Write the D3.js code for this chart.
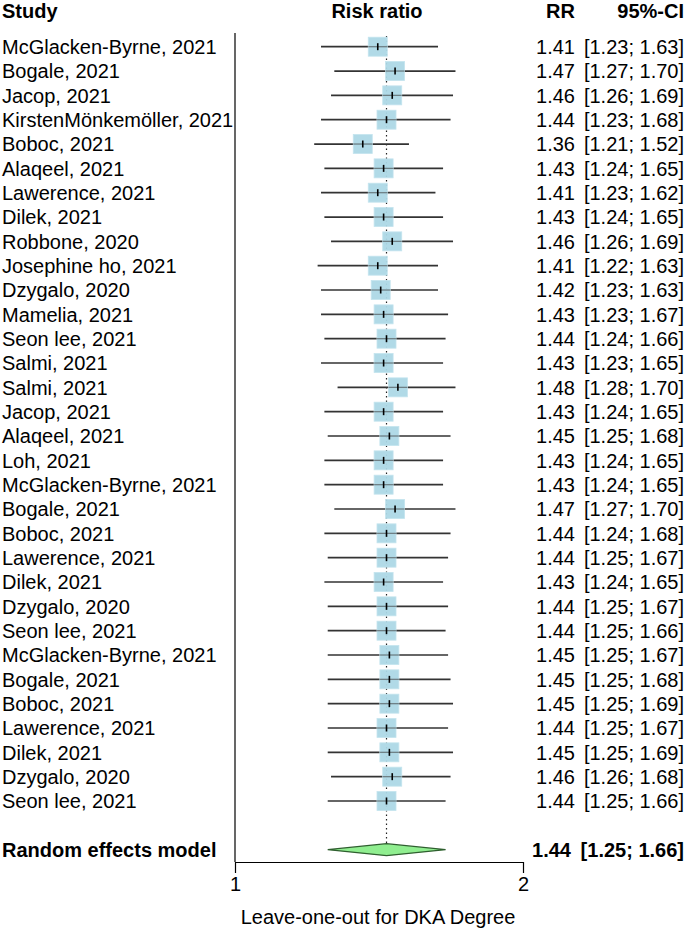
<!DOCTYPE html>
<html>
<head>
<meta charset="utf-8">
<script src="https://cdn.jsdelivr.net/npm/d3@7"></script>
<style>
  html, body { margin: 0; padding: 0; background: #fff; }
  svg text { font-family: "Liberation Sans", Arial, Helvetica, sans-serif; fill: #000; }
</style>
</head>
<body>
<svg id="chart" width="685" height="932"></svg>
<script>
const studies = [
  "McGlacken-Byrne, 2021", "Bogale, 2021", "Jacop, 2021", "KirstenMönkemöller, 2021",
  "Boboc, 2021", "Alaqeel, 2021", "Lawerence, 2021", "Dilek, 2021", "Robbone, 2020",
  "Josephine ho, 2021", "Dzygalo, 2020", "Mamelia, 2021", "Seon lee, 2021", "Salmi, 2021",
  "Salmi, 2021", "Jacop, 2021", "Alaqeel, 2021", "Loh, 2021", "McGlacken-Byrne, 2021",
  "Bogale, 2021", "Boboc, 2021", "Lawerence, 2021", "Dilek, 2021", "Dzygalo, 2020",
  "Seon lee, 2021", "McGlacken-Byrne, 2021", "Bogale, 2021", "Boboc, 2021",
  "Lawerence, 2021", "Dilek, 2021", "Dzygalo, 2020", "Seon lee, 2021"
];
const rr = [1.41,1.47,1.46,1.44,1.36,1.43,1.41,1.43,1.46,1.41,1.42,1.43,1.44,1.43,1.48,1.43,
            1.45,1.43,1.43,1.47,1.44,1.44,1.43,1.44,1.44,1.45,1.45,1.45,1.44,1.45,1.46,1.44];
const lower = [1.23,1.27,1.26,1.23,1.21,1.24,1.23,1.24,1.26,1.22,1.23,1.23,1.24,1.23,1.28,1.24,
               1.25,1.24,1.24,1.27,1.24,1.25,1.24,1.25,1.25,1.25,1.25,1.25,1.25,1.25,1.26,1.25];
const upper = [1.63,1.70,1.69,1.68,1.52,1.65,1.62,1.65,1.69,1.63,1.63,1.67,1.66,1.65,1.70,1.65,
               1.68,1.65,1.65,1.70,1.68,1.67,1.65,1.67,1.66,1.67,1.68,1.69,1.67,1.69,1.68,1.66];
const pooled = { label: "Random effects model", rr: 1.44, lower: 1.25, upper: 1.66 };
const axisTicks = [1, 2];
const headers = { study: "Study", plot: "Risk ratio", rr: "RR", ci: "95%-CI" };
const axisTitle = "Leave-one-out for DKA Degree";

const fmt = d3.format(".2f");
const svg = d3.select("#chart");
const FS = "20px";

const x = d3.scaleLog().domain([1, 2]).range([235, 523]);
const y = d3.scaleLinear().domain([0, studies.length - 1]).range([46.7, 801]);
const yPooled = y(33);
const axisY = 862;

// headers
const HY = 17.5;
svg.append("text").attr("x", 2).attr("y", HY).attr("font-weight", "bold").attr("font-size", FS).text(headers.study);
svg.append("text").attr("x", 377).attr("y", HY).attr("text-anchor", "middle").attr("font-weight", "bold").attr("font-size", FS).text(headers.plot);
svg.append("text").attr("x", 575).attr("y", HY).attr("text-anchor", "end").attr("font-weight", "bold").attr("font-size", FS).text(headers.rr);
svg.append("text").attr("x", 684).attr("y", HY).attr("text-anchor", "end").attr("font-weight", "bold").attr("font-size", FS).text(headers.ci);

// left vertical line
svg.append("line").attr("x1", x(1)).attr("x2", x(1)).attr("y1", 33).attr("y2", axisY)
  .attr("stroke", "#000").attr("stroke-width", 1.2);

// dotted pooled line
svg.append("line").attr("x1", x(pooled.rr)).attr("x2", x(pooled.rr)).attr("y1", 36).attr("y2", yPooled - 5)
  .attr("stroke", "#222").attr("stroke-width", 1.2).attr("stroke-dasharray", "1.5,3");

const rows = studies.map((s, i) => ({ s, i, rr: rr[i], lo: lower[i], hi: upper[i] }));
const g = svg.append("g");

// whiskers
g.selectAll("line.ci").data(rows).join("line").attr("class", "ci")
  .attr("x1", d => x(d.lo)).attr("x2", d => x(d.hi))
  .attr("y1", d => y(d.i)).attr("y2", d => y(d.i))
  .attr("stroke", "#333").attr("stroke-width", 1.7);

// boxes
const B = 19;
g.selectAll("rect.box").data(rows).join("rect").attr("class", "box")
  .attr("x", d => x(d.rr) - B / 2).attr("y", d => y(d.i) - B / 2)
  .attr("width", B).attr("height", B)
  .attr("fill", "#add8e6").attr("fill-opacity", 0.95)
  .attr("stroke", "#c4e4ee").attr("stroke-width", 0.8);

// whisker visible faintly through box
g.selectAll("line.ci2").data(rows).join("line").attr("class", "ci2")
  .attr("x1", d => x(d.rr) - B / 2).attr("x2", d => x(d.rr) + B / 2)
  .attr("y1", d => y(d.i)).attr("y2", d => y(d.i))
  .attr("stroke", "#444").attr("stroke-width", 1.2).attr("stroke-opacity", 0.6);

// estimate tick
g.selectAll("line.est").data(rows).join("line").attr("class", "est")
  .attr("x1", d => x(d.rr)).attr("x2", d => x(d.rr))
  .attr("y1", d => y(d.i) - 3.5).attr("y2", d => y(d.i) + 3.5)
  .attr("stroke", "#000").attr("stroke-width", 1.6);

// study labels and values
g.selectAll("text.lab").data(rows).join("text").attr("class", "lab")
  .attr("x", 2).attr("y", d => y(d.i)).attr("dy", "0.36em").attr("font-size", FS).text(d => d.s);
g.selectAll("text.rr").data(rows).join("text").attr("class", "rr")
  .attr("x", 575).attr("y", d => y(d.i)).attr("dy", "0.36em").attr("text-anchor", "end")
  .attr("font-size", FS).text(d => fmt(d.rr));
g.selectAll("text.ci").data(rows).join("text").attr("class", "ci")
  .attr("x", 684).attr("y", d => y(d.i)).attr("dy", "0.36em").attr("text-anchor", "end")
  .attr("font-size", FS).text(d => `[${fmt(d.lo)}; ${fmt(d.hi)}]`);

// pooled diamond
const dh = 6;
svg.append("path")
  .attr("d", `M${x(pooled.lower)},${yPooled} L${x(pooled.rr)},${yPooled - dh} L${x(pooled.upper)},${yPooled} L${x(pooled.rr)},${yPooled + dh} Z`)
  .attr("fill", "#90ee90").attr("stroke", "#2f5f2f").attr("stroke-width", 1.2);

svg.append("text").attr("x", 2).attr("y", yPooled).attr("dy", "0.36em").attr("font-weight", "bold").attr("font-size", FS).text(pooled.label);
svg.append("text").attr("x", 571).attr("y", yPooled).attr("dy", "0.36em").attr("text-anchor", "end").attr("font-weight", "bold").attr("font-size", FS).text(fmt(pooled.rr));
svg.append("text").attr("x", 684).attr("y", yPooled).attr("dy", "0.36em").attr("text-anchor", "end").attr("font-weight", "bold").attr("font-size", FS).text(`[${fmt(pooled.lower)}; ${fmt(pooled.upper)}]`);

// axis
const axis = d3.axisBottom(x).tickValues(axisTicks).tickFormat(d3.format("d")).tickSizeInner(11).tickSizeOuter(0).tickPadding(4);
const ax = svg.append("g").attr("transform", `translate(0,${axisY})`).call(axis);
ax.select(".domain").attr("stroke", "#000").attr("stroke-width", 1.2);
ax.selectAll(".tick line").attr("stroke", "#000").attr("stroke-width", 1.2);
ax.selectAll(".tick text").attr("font-size", FS).attr("font-family", "Liberation Sans, Arial, sans-serif").attr("fill", "#000");

svg.append("text").attr("x", 378).attr("y", 924).attr("text-anchor", "middle").attr("font-size", FS).text(axisTitle);
</script>
</body>
</html>
